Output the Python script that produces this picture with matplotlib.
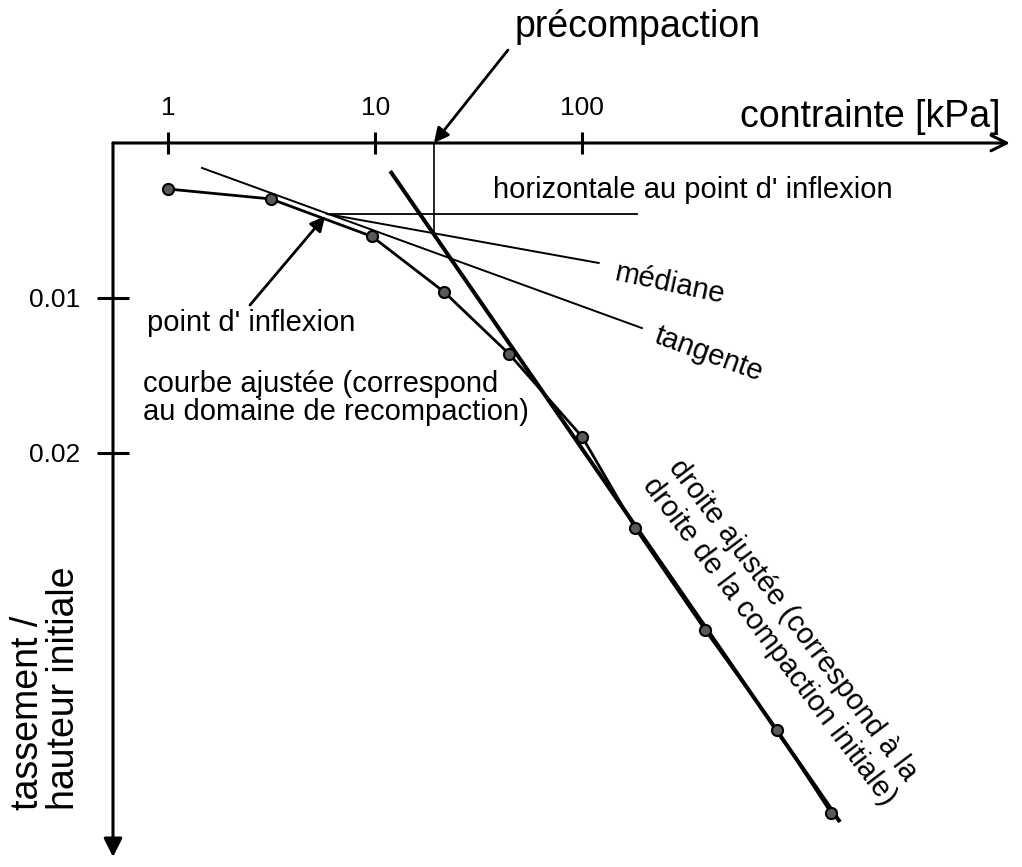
import matplotlib
matplotlib.use("Agg")
import matplotlib.pyplot as plt
from matplotlib.ticker import NullLocator

plt.rcParams['font.family'] = ['Liberation Sans', 'DejaVu Sans']

# measured points: stress [kPa] and settlement / initial height
contrainte = [1.0, 3.13, 9.64, 21.5, 44.3, 100, 180, 392, 873, 1592]
tassement = [0.00297, 0.00361, 0.00603, 0.00961, 0.01361,
             0.01897, 0.02484, 0.03142, 0.03787, 0.04323]

# Casagrande construction
infl_x, infl_y = 5.84, 0.00458           # point d'inflexion
tangente_x = [1.455, 194]
tangente_y = [0.00161, 0.01194]
mediane_x = [infl_x, 120]
mediane_y = [infl_y, 0.00774]
horiz_x = [infl_x, 183]
horiz_y = [infl_y, infl_y]
droite_x = [11.8, 1757]
droite_y = [0.00181, 0.04381]
precomp_x = 19.2
precomp_y = [0.0, 0.00583]

xticks = [1, 10, 100]
xtick_labels = ['1', '10', '100']
yticks = [0.01, 0.02]
ytick_labels = ['0.01', '0.02']

W, H = 1022, 867


def fpos(x, y):
    # pixel position (from top-left) -> figure fraction
    return x / W, 1 - y / H


fig = plt.figure(figsize=(W / 100, H / 100), dpi=100)
ax = fig.add_axes([113 / W, 1 - 857 / H, (1010 - 113) / W, (857 - 143) / H])
ax.set_xscale('log')
ax.set_xlim(0.5405, 11648)
ax.set_ylim(0.046065, 0)
for s in ax.spines.values():
    s.set_visible(False)

ax.xaxis.tick_top()
ax.set_xticks(xticks, xtick_labels)
ax.xaxis.set_minor_locator(NullLocator())
ax.tick_params(axis='x', direction='inout', length=16, width=2.2, pad=8.5, labelsize=19)
ax.set_yticks(yticks, ytick_labels)
ax.tick_params(axis='y', direction='inout', length=23, width=2.2, pad=12, labelsize=19)

# axes drawn as arrows
ax.annotate('', xy=(1, 1), xytext=(0, 1), xycoords='axes fraction',
            arrowprops=dict(arrowstyle='->', lw=2.2, color='k', mutation_scale=28,
                            shrinkA=0, shrinkB=0), annotation_clip=False)
ax.annotate('', xy=(0, 0), xytext=(0, 1), xycoords='axes fraction',
            arrowprops=dict(arrowstyle='-|>', lw=2.2, color='k', mutation_scale=28,
                            shrinkA=0, shrinkB=0), annotation_clip=False)

# construction lines
ax.plot(tangente_x, tangente_y, color='k', lw=1.4)
ax.plot(mediane_x, mediane_y, color='k', lw=1.4)
ax.plot(horiz_x, horiz_y, color='k', lw=1.3)
ax.plot([precomp_x, precomp_x], precomp_y, color='k', lw=1.2)
ax.plot(droite_x, droite_y, color='k', lw=2.9, solid_capstyle='butt')

# fitted curve and measurements
ax.plot(contrainte, tassement, color='k', lw=2.0, marker='o', ms=8,
        mfc='0.35', mec='k', mew=1.5)

# labels
fig.text(*fpos(740, 127), 'contrainte [kPa]', fontsize=27, va='baseline')
fig.text(*fpos(515, 37), 'précompaction', fontsize=27, va='baseline')
fig.text(*fpos(46, 810), 'tassement /\nhauteur initiale', fontsize=27, rotation=90,
         ha='center', va='bottom', linespacing=1.0, multialignment='left')

fig.text(*fpos(493, 198), "horizontale au point d' inflexion", fontsize=21, va='baseline')
fig.text(*fpos(613, 280), 'médiane', fontsize=21, va='baseline', ha='left',
         rotation=-12, rotation_mode='anchor')
fig.text(*fpos(653, 342), 'tangente', fontsize=21, va='baseline', ha='left',
         rotation=-20, rotation_mode='anchor')
fig.text(*fpos(147, 331), "point d' inflexion", fontsize=21, va='baseline')
fig.text(*fpos(143, 392), 'courbe ajustée (correspond', fontsize=21, va='baseline')
fig.text(*fpos(143, 420), 'au domaine de recompaction)', fontsize=21, va='baseline')
fig.text(*fpos(668, 467), 'droite ajustée (correspond à la', fontsize=21,
         va='baseline', ha='left', rotation=-53, rotation_mode='anchor')
fig.text(*fpos(642, 485), 'droite de la compaction initiale)', fontsize=21,
         va='baseline', ha='left', rotation=-53, rotation_mode='anchor')

# pointer arrows
ax.annotate('', xy=(precomp_x, 0), xytext=fpos(508, 50), textcoords='figure fraction',
            arrowprops=dict(arrowstyle='-|>', lw=2, color='k', mutation_scale=22,
                            shrinkA=0, shrinkB=0), annotation_clip=False)
ax.annotate('', xy=(infl_x, infl_y), xytext=fpos(250, 305), textcoords='figure fraction',
            arrowprops=dict(arrowstyle='-|>', lw=2, color='k', mutation_scale=22,
                            shrinkA=0, shrinkB=2), annotation_clip=False)

fig.savefig('out.png', dpi=100)
